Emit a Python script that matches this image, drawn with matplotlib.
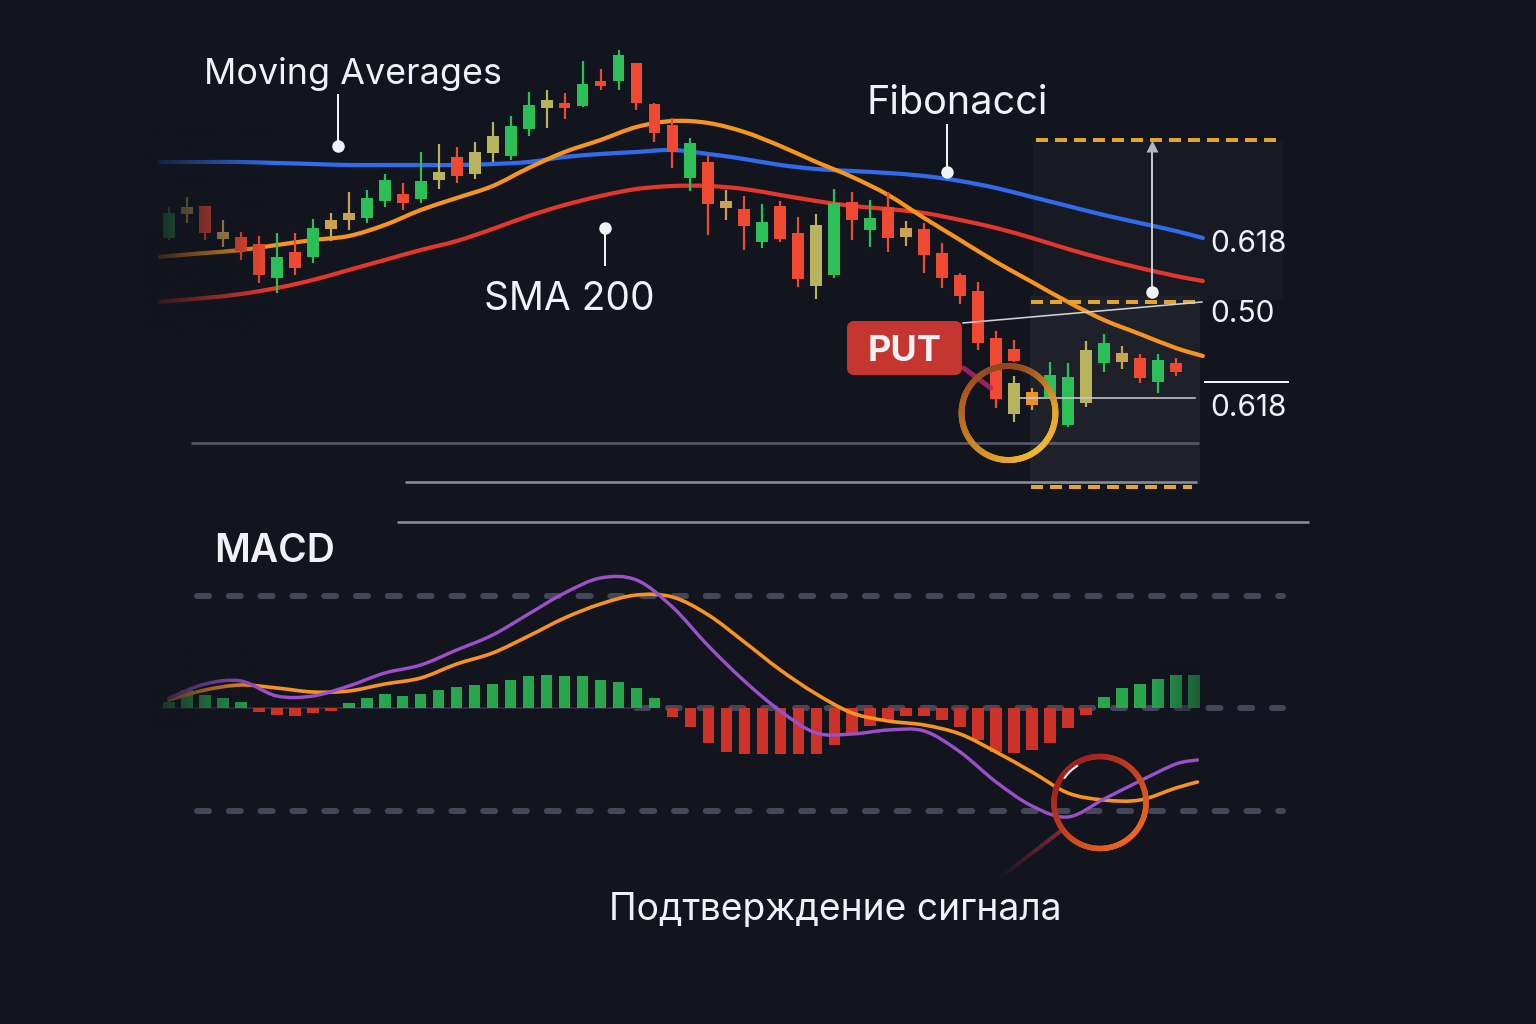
import numpy as np
import matplotlib
matplotlib.use("Agg")
import matplotlib.pyplot as plt
import matplotlib.colors as mcolors
from matplotlib.collections import LineCollection
from matplotlib.patches import Rectangle, FancyBboxPatch, PathPatch
from matplotlib.path import Path

plt.rcParams['font.family'] = ['Inter', 'DejaVu Sans']

# ---------------- price candles ----------------
candle_t = [0, 1, 2, 3, 4, 5, 6, 7, 8, 9, 10, 11, 12, 13, 14, 15, 16, 17, 18, 19,
            20, 21, 22, 23, 24, 25, 26, 27, 28, 29, 30, 31, 32, 33, 34, 35, 36, 37, 38, 39,
            40, 41, 42, 43, 44, 45, 46, 47, 47, 48, 49, 50, 51, 52, 53, 54, 55, 56]
candle_kind = ['g', 't', 'r', 't', 'r', 'r', 'g', 'r', 'g', 't', 't', 'g', 'g', 'r', 'g', 'y', 'r', 'y', 'y', 'g',
               'g', 'y', 'r', 'g', 'r', 'g', 'r', 'r', 'r', 'g', 'r', 't', 'r', 'g', 'r', 'r', 'y', 'g', 'r', 'g',
               'r', 't', 'r', 'r', 'r', 'r', 'r', 'r', 'y', 'o', 'g', 'g', 'y', 'g', 't', 'r', 'g', 'r']
candle_open = [78.6, 81.0, 81.8, 78.5, 78.7, 78.0, 74.6, 77.2, 76.7, 79.5, 80.4, 80.6, 82.3, 83.0, 82.5, 84.4, 86.7, 85.0, 87.1, 86.8,
               89.5, 91.6, 92.1, 91.8, 94.3, 94.3, 96.1, 92.0, 89.9, 84.6, 86.2, 81.6, 81.5, 78.2, 81.8, 79.1, 73.8, 74.9, 82.2, 79.4,
               81.7, 78.7, 79.5, 77.1, 74.9, 73.3, 68.6, 67.5, 61.0, 61.9, 62.7, 59.9, 62.1, 66.1, 66.2, 66.6, 64.2, 66.1]
candle_high = [81.7, 82.7, 81.8, 80.4, 79.2, 78.8, 79.1, 79.1, 80.5, 81.1, 83.2, 83.4, 85.0, 84.1, 87.2, 88.0, 87.7, 88.2, 90.2, 90.8,
               93.2, 93.4, 93.1, 96.3, 95.5, 97.4, 96.1, 92.1, 90.6, 88.6, 86.8, 83.4, 82.8, 82.0, 82.3, 80.7, 81.0, 83.5, 83.2, 82.4,
               83.2, 80.3, 80.1, 78.1, 75.1, 74.2, 69.3, 68.4, 64.8, 63.6, 66.2, 66.1, 68.3, 69.0, 67.8, 67.0, 67.0, 66.6]
candle_low = [78.4, 80.1, 78.4, 77.7, 76.4, 74.1, 73.1, 74.9, 76.1, 78.3, 79.4, 80.1, 81.7, 81.4, 82.1, 83.5, 84.1, 84.5, 86.2, 86.4,
              88.8, 89.6, 90.5, 91.7, 93.4, 93.4, 91.4, 88.2, 85.6, 83.3, 78.9, 80.4, 77.4, 77.6, 78.2, 73.7, 72.5, 74.6, 78.4, 77.7,
              77.2, 77.8, 75.1, 73.6, 72.0, 67.4, 61.6, 66.2, 60.2, 61.4, 62.6, 59.7, 61.7, 65.2, 65.5, 64.1, 63.1, 64.8]
candle_close = [81.1, 81.7, 79.1, 79.2, 77.3, 74.9, 76.7, 75.6, 79.6, 80.4, 81.1, 82.6, 84.4, 82.1, 84.3, 85.2, 84.8, 87.2, 88.8, 89.8,
                91.9, 92.4, 91.6, 94.0, 93.8, 96.9, 92.1, 89.1, 87.2, 88.1, 82.0, 82.3, 79.8, 80.2, 78.5, 74.5, 79.9, 82.1, 80.4, 80.6,
                78.6, 79.6, 76.9, 74.6, 72.8, 68.1, 62.5, 66.3, 64.1, 63.2, 64.9, 64.7, 67.4, 68.1, 67.1, 64.6, 66.4, 65.2]

# ---------------- moving averages ----------------
ma_t = [-0.5, 0, 2, 4, 6, 8, 10, 12, 14, 16, 18, 20, 22, 24, 26, 28, 30, 32, 34, 36,
        38, 40, 42, 44, 46, 48, 50, 52, 54, 56, 57.5]
ma_blue = [86.2, 86.2, 86.2, 86.2, 86.1, 86.0, 85.9, 85.9, 85.9, 85.9, 86.0, 86.2, 86.7, 87.0, 87.2, 87.4,
           87.0, 86.5, 85.9, 85.5, 85.3, 85.1, 84.8, 84.3, 83.6, 82.7, 81.8, 80.9, 80.1, 79.3, 78.6]
ma_orange = [76.7, 76.8, 77.1, 77.4, 77.9, 78.4, 78.8, 79.9, 81.4, 82.6, 83.8, 85.6, 87.2, 88.4, 89.7, 90.3,
             90.1, 89.2, 87.8, 86.2, 84.7, 82.9, 80.6, 78.4, 76.2, 74.2, 72.2, 70.4, 69.0, 67.6, 66.8]
sma200 = [72.2, 72.3, 72.6, 73.0, 73.6, 74.4, 75.4, 76.4, 77.4, 78.3, 79.5, 80.8, 81.9, 82.8, 83.5, 83.8,
          83.8, 83.5, 82.9, 82.3, 81.8, 81.5, 81.1, 80.4, 79.6, 78.6, 77.5, 76.5, 75.6, 74.8, 74.3]

# ---------------- Fibonacci / levels ----------------
fib_top, fib_mid, fib_bot = 88.4, 72.2, 53.7
fib_labels = ['0.618', '0.50', '0.618']
fib_label_y = [77.2, 70.2, 60.8]
grid_levels = [58.1, 54.2, 50.2]
grid_start = [1.2, 13.1, 12.7]
grid_end = [57.3, 57.2, 63.4]

# ---------------- MACD ----------------
macd_t = [0, 2, 4, 6, 8, 10, 12, 14, 16, 18, 20, 22, 24, 26, 28, 30, 32, 34, 36, 38,
          40, 42, 44, 46, 48, 50, 52, 54, 56, 57.2]
macd_line = [0.10, 0.24, 0.27, 0.12, 0.12, 0.22, 0.35, 0.43, 0.58, 0.73, 0.94, 1.15, 1.30, 1.28, 1.01,
             0.62, 0.27, -0.03, -0.25, -0.26, -0.22, -0.23, -0.44, -0.74, -0.98, -1.09, -0.91, -0.73, -0.56, -0.52]
signal_line = [0.08, 0.18, 0.23, 0.20, 0.16, 0.17, 0.24, 0.30, 0.44, 0.55, 0.72, 0.90, 1.04, 1.13, 1.11,
               0.93, 0.66, 0.38, 0.14, -0.05, -0.13, -0.17, -0.26, -0.44, -0.64, -0.85, -0.92, -0.92, -0.80, -0.74]
hist_t = list(range(58))
hist_vals = [0.06, 0.18, 0.13, 0.10, 0.06, -0.04, -0.07, -0.08, -0.05, -0.03,
             0.05, 0.10, 0.14, 0.12, 0.14, 0.18, 0.21, 0.23, 0.24, 0.28,
             0.32, 0.33, 0.32, 0.32, 0.28, 0.26, 0.20, 0.10, -0.09, -0.19,
             -0.35, -0.44, -0.46, -0.46, -0.46, -0.46, -0.46, -0.37, -0.25, -0.18,
             -0.12, -0.08, -0.08, -0.12, -0.19, -0.32, -0.44, -0.45, -0.42, -0.35,
             -0.20, -0.07, 0.11, 0.20, 0.24, 0.29, 0.33, 0.33]
macd_levels = [1.12, 0.0, -1.03]

# ---------------- style ----------------
BG = '#12141e'
WHITE = '#f2f2f6'
KIND_COL = {'g': '#2cbf58', 'r': '#ef4a31', 'y': '#b7b45d', 't': '#c9a254', 'o': '#e8922c'}
PX = 72 / 100.0  # points per pixel

XMIN = -169 / 17.98
XMAX = XMIN + 1536 / 17.98

fig = plt.figure(figsize=(15.36, 10.24), dpi=100, facecolor=BG)
ax = fig.add_axes([0, 0, 1, 1])
ax.set_facecolor('none')
ax.axis('off')
ax2 = fig.add_axes([0, 0, 1, 1])
ax2.set_facecolor('none')
ax2.axis('off')


def smooth_path(x, y):
    x = np.asarray(x, float)
    y = np.asarray(y, float)
    n = len(x)
    verts = [(x[0], y[0])]
    codes = [Path.MOVETO]
    for i in range(n - 1):
        p0 = np.array([x[max(i - 1, 0)], y[max(i - 1, 0)]])
        p1 = np.array([x[i], y[i]])
        p2 = np.array([x[i + 1], y[i + 1]])
        p3 = np.array([x[min(i + 2, n - 1)], y[min(i + 2, n - 1)]])
        c1 = p1 + (p2 - p0) / 6.0
        c2 = p2 - (p3 - p1) / 6.0
        verts += [tuple(c1), tuple(c2), tuple(p2)]
        codes += [Path.CURVE4] * 3
    return Path(verts, codes)


def curve(axis, x, y, color, lw_px, z):
    axis.add_patch(PathPatch(smooth_path(x, y), fill=False, edgecolor=color,
                             lw=lw_px * PX, capstyle='round', joinstyle='round', zorder=z))


def ring(axis, cx, cy, rx, ry, c0, c1, lw_px, z, dim=None):
    th = np.linspace(0, 2 * np.pi, 241)
    pts = np.column_stack([cx + rx * np.cos(th), cy + ry * np.sin(th)])
    segs = np.stack([pts[:-1], pts[1:]], axis=1)
    mid = (th[:-1] + th[1:]) / 2
    f = (1 - np.cos(mid - np.deg2rad(135))) / 2
    a = np.array(mcolors.to_rgb(c0))
    b = np.array(mcolors.to_rgb(c1))
    cols = a[None, :] * (1 - f[:, None]) + b[None, :] * f[:, None]
    if dim is not None:
        d = np.array(mcolors.to_rgb(dim[0]))
        w = dim[1] * np.clip(np.sin(mid), 0, 1) ** 3
        cols = cols * (1 - w[:, None]) + d[None, :] * w[:, None]
    lc = LineCollection(segs, colors=cols, linewidths=lw_px * PX, capstyle='round', zorder=z)
    axis.add_collection(lc)


def fade(axis, x0, x1, y0, y1, a0, a1, z):
    rgb = mcolors.to_rgb(BG)
    img = np.zeros((1, 64, 4))
    img[..., 0], img[..., 1], img[..., 2] = rgb
    img[0, :, 3] = np.linspace(a0, a1, 64)
    axis.imshow(img, extent=[x0, x1, y0, y1], aspect='auto', zorder=z, interpolation='bilinear')


# ---------------- Fibonacci zone backgrounds ----------------
ax.add_patch(Rectangle((48.05, 72.4), 61.96 - 48.05, fib_top - 72.4, facecolor='#171923', edgecolor='none', zorder=0.5))
ax.add_patch(Rectangle((47.9, 54.0), 57.34 - 47.9, 72.8 - 54.0, facecolor='#1f212a', edgecolor='none', zorder=0.6))

# grid lines
grid_cols = ['#585a68', '#8a8b96', '#8a8b96']
for lvl, s, e, c in zip(grid_levels, grid_start, grid_end, grid_cols):
    ax.plot([s, e], [lvl, lvl], color=c, lw=2.6 * PX, solid_capstyle='butt', zorder=1)

# ---------------- moving averages ----------------
curve(ax, ma_t, sma200, '#e3372b', 4.2, 3)
curve(ax, ma_t, ma_blue, '#2f6bea', 4.2, 3.1)
curve(ax, ma_t, ma_orange, '#f7941d', 4.2, 3.2)

# ---------------- candles ----------------
o = np.array(candle_open)
c = np.array(candle_close)
cols = [KIND_COL[k] for k in candle_kind]
ax.vlines(candle_t, candle_low, candle_high, colors=cols, lw=2.2 * PX, zorder=4)
ax.bar(candle_t, np.maximum(np.abs(c - o), 0.3), bottom=np.minimum(o, c), width=0.66,
       color=cols, edgecolor='none', zorder=4.1)

# left fade of the price area
fade(ax, (145 - 169) / 17.98, (270 - 169) / 17.98, 69.0, 90.0, 0.95, 0.0, 5)

# ---------------- Fibonacci lines ----------------
dash_kw = dict(color='#e2a532', lw=4 * PX, linestyle=(0, (3, 1.75)), dash_capstyle='butt', zorder=6)
ax.plot([48.2, 61.96], [fib_top, fib_top], **dash_kw)
ax.plot([47.95, 57.4], [fib_mid, fib_mid], **dash_kw)
ax.plot([47.95, 56.9], [fib_bot, fib_bot], **dash_kw)
ax.plot([44.16, 57.45], [70.1, 72.2], color='#cfd0d8', lw=1.6 * PX, zorder=6)
ax.plot([47.33, 57.06], [62.6, 62.6], color='#c8c8d0', lw=1.6 * PX, zorder=6)
ax.plot([57.62, 62.24], [64.2, 64.2], color=WHITE, lw=2.0 * PX, zorder=6)
ax.plot([54.67, 54.67], [87.6, 73.2], color='#d8d8e0', lw=1.8 * PX, zorder=6)
ax.plot([54.67], [87.8], marker='^', ms=9, color='#b4b4bc', mec='none', zorder=6.1)
ax.plot([54.67], [73.2], 'o', ms=9, color=WHITE, mec='none', zorder=6.1)
for lab, y in zip(fib_labels, fib_label_y):
    ax.text(57.9, y, lab, fontsize=21.5, color=WHITE, ha='left', va='baseline', zorder=10)

# ---------------- callouts ----------------
ax.plot([9.40, 9.40], [92.9, 87.8], color=WHITE, lw=2 * PX, zorder=7)
ax.plot([9.40], [87.8], 'o', ms=9, color=WHITE, mec='none', zorder=7)
ax.text(1.95, 94.0, 'Moving Averages', fontsize=25.8, color=WHITE, ha='left', va='baseline', zorder=10)

ax.plot([24.25, 24.25], [79.6, 75.9], color=WHITE, lw=2 * PX, zorder=7)
ax.plot([24.25], [79.6], 'o', ms=9, color=WHITE, mec='none', zorder=7)
ax.text(17.52, 71.4, 'SMA 200', fontsize=28, color=WHITE, ha='left', va='baseline', zorder=10)

ax.plot([43.27, 43.27], [89.9, 85.2], color=WHITE, lw=2 * PX, zorder=7)
ax.plot([43.27], [85.2], 'o', ms=9, color=WHITE, mec='none', zorder=7)
ax.text(38.82, 91.0, 'Fibonacci', fontsize=28.5, color=WHITE, ha='left', va='baseline', zorder=10)

# PUT signal
ax.add_patch(FancyBboxPatch((37.71, 64.9), 44.10 - 37.71, 70.3 - 64.9,
                            boxstyle='round,pad=0,rounding_size=0.4', mutation_aspect=1.798,
                            facecolor='#c4362f', edgecolor='none', zorder=8))
ax.text(40.9, 67.6, 'PUT', fontsize=26, fontweight='bold', color=WHITE, ha='center',
        va='center_baseline', zorder=10)
ax.plot([44.2, 45.7], [65.6, 63.6], color='#b0246e', lw=5 * PX, alpha=0.85,
        solid_capstyle='round', zorder=7)

ring(ax, 46.69, 61.1, 2.61, 4.7, '#a8561e', '#f0b52e', 6, 9, dim=('#6a2a1a', 0.45))

# ---------------- MACD panel ----------------
for lvl in macd_levels:
    xs = [1.56, 61.96] if lvl != 0.0 else [26.0, 61.96]
    ax2.plot(xs, [lvl, lvl], color='#44465a', lw=6 * PX, linestyle=(0, (2, 3.3)),
             dash_capstyle='round', zorder=1)
ax2.plot([-0.5, 26.0], [0, 0], color='#2a2c3a', lw=2 * PX, zorder=1)

hv = np.array(hist_vals)
hcols = np.where(hv >= 0, '#27a64e', '#cc3228')
ax2.bar(hist_t, hv, width=0.64, color=hcols, edgecolor='none', zorder=2)

curve(ax2, macd_t, signal_line, '#f7931e', 3.6, 3)
curve(ax2, macd_t, macd_line, '#9b4fc8', 3.4, 3.1)

fade(ax2, (150 - 169) / 17.98, (262 - 169) / 17.98, -0.25, 0.6, 0.85, 0.0, 4)
fade(ax2, (1150 - 169) / 17.98, (1205 - 169) / 17.98, -0.1, 0.45, 0.0, 0.55, 4)

# signal confirmation ring
gx = np.linspace(46.2, 49.67, 12)
gy = np.linspace(-1.70, -1.22, 12)
gpts = np.column_stack([gx, gy])
gsegs = np.stack([gpts[:-1], gpts[1:]], axis=1)
gcol = [(0.62, 0.18, 0.24, a) for a in np.linspace(0.05, 0.8, 11)]
ax2.add_collection(LineCollection(gsegs, colors=gcol, linewidths=4 * PX, zorder=4))
ring(ax2, 51.78, -0.945, 2.56, 0.46, '#a01f1f', '#e8661e', 5.5, 6)
th = np.linspace(np.deg2rad(122), np.deg2rad(145), 20)
ax2.plot(51.78 + 2.40 * np.cos(th), -0.945 + 0.43 * np.sin(th), color='white', lw=2 * PX, zorder=7)

ax2.text(2.50, 1.46, 'MACD', fontsize=28, fontweight='semibold', color=WHITE, ha='left',
         va='baseline', zorder=10)
ax2.text(24.47, -2.12, 'Подтверждение сигнала', fontsize=26.8, color=WHITE, ha='left',
         va='baseline', zorder=10)

ax.set_xlim(XMIN, XMAX)
ax.set_ylim(0, 102.4)
ax2.set_xlim(XMIN, XMAX)
ax2.set_ylim(-3.16, 7.08)

fig.savefig('out.png', dpi=100, facecolor=BG)
